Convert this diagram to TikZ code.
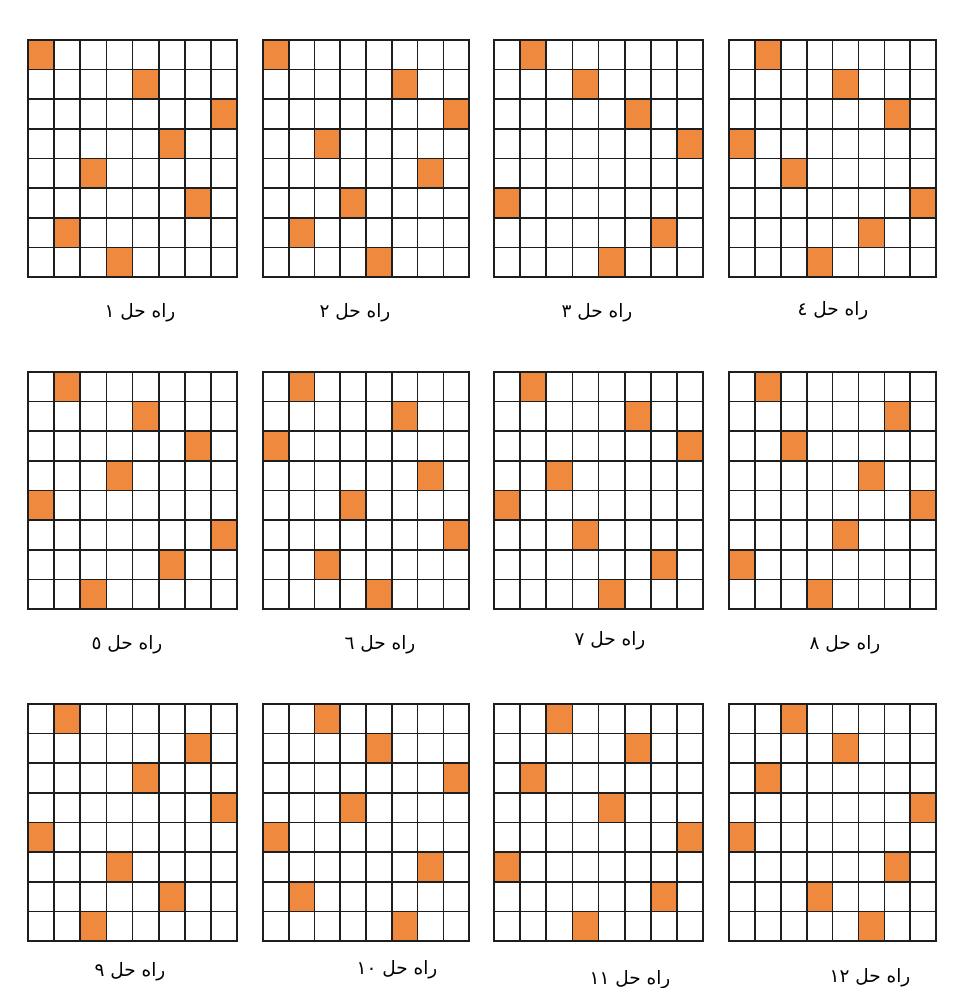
\documentclass[tikz,border=0pt]{standalone}
\usepackage{fontspec}
\usepackage{tikz}
\usetikzlibrary{positioning}
\usepackage{xcolor}
\TeXXeTstate=1
\newfontfamily\arabicfont[Script=Arabic]{DejaVu Sans}
\definecolor{queenorange}{RGB}{238,137,62}
\definecolor{gridink}{RGB}{30,30,30}

\begin{document}
\begin{tikzpicture}[x=0.02cm, y=-0.02cm,
  cellline/.style={gridink, line width=0.95pt, line cap=rect},
  queencell/.style={fill=queenorange},
  sollabel/.style={font=\arabicfont\fontsize{10.5}{12}\selectfont, inner sep=1pt}]
  \useasboundingbox[fill=white] (0,0) rectangle (962,988);

  % boards: left x / top y / width / queen column per row (0 = empty row)
  \foreach \bx/\by/\bw/\q in {%
    28/40/209/{1,5,8,6,3,7,2,4},   263/40/206/{1,6,8,3,7,4,2,5},
    494/40/209/{2,4,6,8,0,1,7,5},  729/40/207/{2,5,7,1,3,8,6,4},
    28/372/209/{2,5,7,4,1,8,6,3},  263/372/206/{2,6,1,7,4,8,3,5},
    494/372/209/{2,6,8,3,1,4,7,5}, 729/372/207/{2,7,3,6,8,5,1,4},
    28/704/209/{2,7,5,8,1,4,6,3},  263/704/206/{3,5,8,4,1,7,2,6},
    494/704/209/{3,6,2,5,8,1,7,4}, 729/704/207/{3,5,2,8,1,7,4,6}}
  {
    \pgfmathsetmacro\cw{\bw*0.0025}
    \begin{scope}[shift={(\bx,\by)}, x=\cw cm, y=-0.5925cm]
      % queens (under the grid lines)
      \foreach \c [count=\r] in \q {
        \ifnum\c>0
          \fill[queencell] ({\c-1},{\r-1}) rectangle (\c,\r);
        \fi
      }
      % grid lines
      \foreach \k in {0,...,8} {
        \draw[cellline] (\k,0) -- (\k,8);
        \draw[cellline] (0,\k) -- (8,\k);
      }
    \end{scope}
  }

  % labels under the boards
  \foreach \lx/\ly/\t [count=\n] in {%
    140/313/١, 355/313/٢, 597/313/٣, 833/311/٤,
    127/645/٥, 380/645/٦, 610/641/٧, 845/645/٨,
    130/972/٩, 397/970/١٠, 630/980/١١, 870/978/١٢}
    \node[sollabel] (lab\n) at (\lx,\ly) {\beginR راه حل \beginL\t\endL\endR};
\end{tikzpicture}
\end{document}
